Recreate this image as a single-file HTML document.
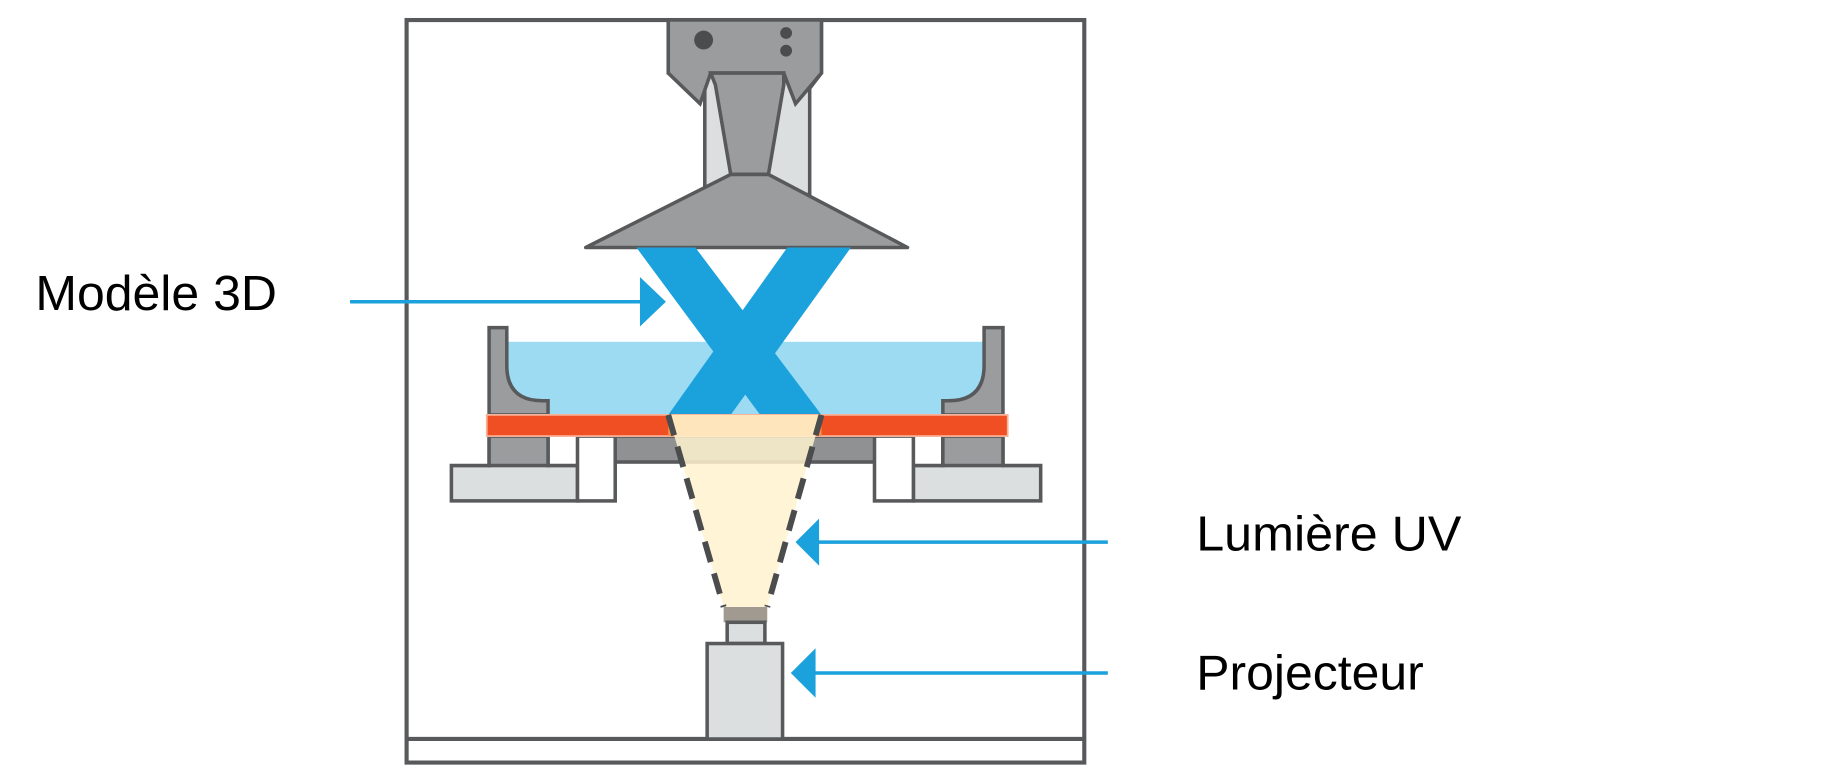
<!DOCTYPE html>
<html><head><meta charset="utf-8"><style>html,body{margin:0;padding:0;background:#fff;}svg{display:block}</style></head>
<body>
<svg width="1848" height="776" viewBox="0 0 1568 658.4" preserveAspectRatio="none" xmlns="http://www.w3.org/2000/svg">
<rect width="1568" height="660" fill="#fff"/>
<!-- frame -->
<rect x="345" y="17" width="575" height="630" fill="#fff" stroke="#58595b" stroke-width="3.5"/>
<line x1="345" y1="627" x2="920" y2="627" stroke="#58595b" stroke-width="3.5"/>
<!-- head -->
<path d="M567 17 L697 17 L697 62 L687 75 L687 165 L598 165 L598 75 L567 62 Z" fill="#dcdfe0" stroke="#58595b" stroke-width="3"/>
<path d="M567 17 L697 17 L697 62 L675 88 L665 62 L603 62 L594 88 L567 62 Z" fill="#9a9c9e" stroke="#58595b" stroke-width="3"/>
<path d="M603 62 L665 62 L665 72 L652 148 L620 148 L607 72 Z" fill="#9a9c9e" stroke="#58595b" stroke-width="3"/>
<circle cx="597" cy="34" r="8" fill="#4a4c4e"/>
<circle cx="667" cy="28" r="5" fill="#4a4c4e"/>
<circle cx="667" cy="43" r="5" fill="#4a4c4e"/>
<path d="M620 148 L652 148 L770 210 L497 210 Z" fill="#9a9c9e" stroke="#58595b" stroke-width="3" stroke-linejoin="round"/>
<!-- resin & tank -->
<rect x="430" y="290" width="405" height="62" fill="#9ddbf3"/>
<path d="M415 278 L430 278 L430 310 Q430 340 460 340 L465 340 L465 352 L415 352 Z" fill="#9a9c9e" stroke="#58595b" stroke-width="3"/>
<path d="M851 278 L835 278 L835 310 Q835 340 805 340 L800 340 L800 352 L851 352 Z" fill="#9a9c9e" stroke="#58595b" stroke-width="3"/>
<!-- X model -->
<polygon points="540,210 590,210 697,352 645,352" fill="#1ba1dc"/>
<polygon points="668,210 722,210 620,352 567,352" fill="#1ba1dc"/>
<!-- base parts -->
<rect x="508" y="370" width="249" height="22" fill="#8f9193" stroke="#58595b" stroke-width="3"/>
<path d="M415 370 L465 370 L465 395 L490 395 L490 425 L383 425 L383 395 L415 395 Z" fill="#dcdfe0" stroke="#58595b" stroke-width="3"/>
<rect x="415" y="370" width="50" height="25" fill="#9a9c9e" stroke="#58595b" stroke-width="3"/>
<rect x="490" y="370" width="32" height="55" fill="#fff" stroke="#58595b" stroke-width="3"/>
<path d="M851 370 L800 370 L800 395 L775 395 L775 425 L883 425 L883 395 L851 395 Z" fill="#dcdfe0" stroke="#58595b" stroke-width="3"/>
<rect x="800" y="370" width="51" height="25" fill="#9a9c9e" stroke="#58595b" stroke-width="3"/>
<rect x="742" y="370" width="33" height="55" fill="#fff" stroke="#58595b" stroke-width="3"/>
<!-- orange bar -->
<rect x="413" y="352" width="442" height="18" fill="#f04e23" stroke="#f6b39a" stroke-width="1.5"/>
<rect x="567" y="352" width="130" height="18" fill="#f5964e"/>
<!-- light cone -->
<polygon points="567,352 697,352 651,515 614,515" fill="#fff3cf" opacity="0.85"/>
<line x1="567" y1="352" x2="614" y2="515" stroke="#4a4c4e" stroke-width="5" stroke-dasharray="18,10"/>
<line x1="697" y1="352" x2="651" y2="515" stroke="#4a4c4e" stroke-width="5" stroke-dasharray="18,10"/>
<!-- projector -->
<rect x="614" y="515" width="37" height="13" fill="#a09a90"/>
<rect x="617" y="528" width="32" height="18" fill="#dcdfe0" stroke="#58595b" stroke-width="3"/>
<rect x="600" y="546" width="64" height="81" fill="#dcdfe0" stroke="#58595b" stroke-width="3"/>
<!-- arrows -->
<line x1="297" y1="256" x2="548" y2="256" stroke="#1ba1dc" stroke-width="3"/>
<polygon points="543,235 565,256 543,277" fill="#1ba1dc"/>
<line x1="940" y1="460" x2="690" y2="460" stroke="#1ba1dc" stroke-width="3"/>
<polygon points="695,440 675,460 695,480" fill="#1ba1dc"/>
<line x1="940" y1="571" x2="688" y2="571" stroke="#1ba1dc" stroke-width="3"/>
<polygon points="692,550 671,571 692,592" fill="#1ba1dc"/>
<!-- labels -->
<g font-family="Liberation Sans, Arial, sans-serif" font-size="42" fill="#000">
<text x="30" y="263" textLength="205" lengthAdjust="spacingAndGlyphs">Modèle 3D</text>
<text x="1015" y="467" textLength="225" lengthAdjust="spacingAndGlyphs">Lumière UV</text>
<text x="1015" y="585" textLength="193" lengthAdjust="spacingAndGlyphs">Projecteur</text>
</g>
</svg>
</body></html>
